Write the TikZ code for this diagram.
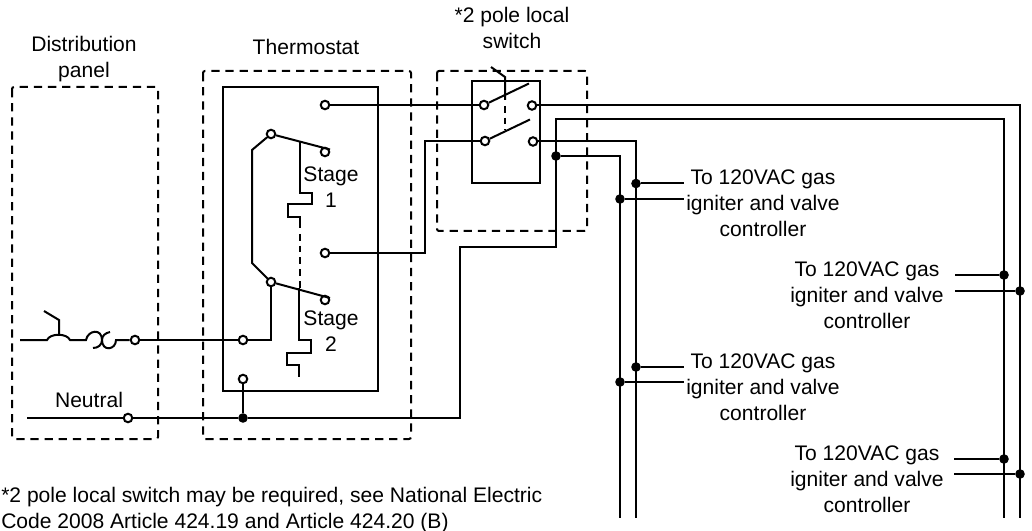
\documentclass[tikz,border=0pt]{standalone}
\usepackage{fontspec}
\setmainfont{Liberation Sans}
\tikzset{
  wire/.style={line width=1.5pt,line join=miter},
  heavy/.style={line width=1.8pt},
  dashbox/.style={line width=1.5pt,dash pattern=on 6.2pt off 4.4pt,rounded corners=1.5pt},
  linkdash/.style={line width=1.5pt,dash pattern=on 5pt off 3.8pt},
  term/.style={circle,draw,line width=1.5pt,fill=white,inner sep=0pt,minimum size=6.4pt},
  junc/.style={circle,fill=black,inner sep=0pt,minimum size=7.2pt},
  corner/.style={inner sep=0pt,minimum size=0pt},
  lbl/.style={font=\fontsize{15.8}{19.5}\selectfont,align=center,inner sep=0pt,text=black}
}
\begin{document}
\begin{tikzpicture}[x=0.75pt,y=-0.75pt]
\useasboundingbox (0,0) rectangle (1032,531);
% boxes
\node[corner] (distTL) at (12,87) {};
\node[corner] (distBR) at (158,439) {};
\node[corner] (thTL) at (203,71) {};
\node[corner] (thBR) at (411,439) {};
\node[corner] (inTL) at (223,87) {};
\node[corner] (inBR) at (378,391) {};
\node[corner] (swTL) at (437,71) {};
\node[corner] (swBR) at (587,231) {};
\node[corner] (bxTL) at (472,81) {};
\node[corner] (bxBR) at (540,183) {};
\draw[dashbox] (distTL.center) rectangle (distBR.center);
\draw[dashbox] (thTL.center) rectangle (thBR.center);
\draw[dashbox] (swTL.center) rectangle (swBR.center);
\draw[heavy] (inTL.center) rectangle (inBR.center);
\draw[wire] (bxTL.center) rectangle (bxBR.center);
% terminals
\node[term] (t1) at (325,105) {};
\node[term] (t2) at (325,253) {};
\node[term] (c1) at (325,152) {};
\node[term] (c2) at (325,300) {};
\node[term] (p1) at (271,134) {};
\node[term] (p2) at (271,282) {};
\node[term] (tin) at (243,340) {};
\node[term] (tn) at (243,379) {};
\node[term] (fuseT) at (135,340) {};
\node[term] (neuT) at (128,418) {};
\node[term] (s1L) at (484,105) {};
\node[term] (s1R) at (532,105.5) {};
\node[term] (s2L) at (485,141) {};
\node[term] (s2R) at (533,141.5) {};
% junctions
\node[junc] (jn) at (243,418) {};
\node[junc] (js) at (556,156) {};
\node[junc] (a1) at (636,183.5) {};
\node[junc] (b1) at (620,199) {};
\node[junc] (a2) at (636,367) {};
\node[junc] (b2) at (620,382) {};
\node[junc] (a3) at (1004,275) {};
\node[junc] (b3) at (1020,291) {};
\node[junc] (a4) at (1004,459) {};
\node[junc] (b4) at (1020,474) {};
% free ends
\coordinate (ne) at (27,418);
\coordinate (le) at (20,340);
\coordinate (v1) at (636,518);
\coordinate (v2) at (620,518);
\coordinate (v3) at (1004,518);
\coordinate (v4) at (1020,518);
\coordinate (ea1) at (684,183.5);
\coordinate (eb1) at (684,199);
\coordinate (ea2) at (684,367);
\coordinate (eb2) at (684,382);
\coordinate (ea3) at (955,275);
\coordinate (eb3) at (955,291);
\coordinate (ea4) at (954,459);
\coordinate (eb4) at (954,474);
% main wires
\draw[wire] (t1) -- (s1L);
\draw[wire] (t2) -- (425,253) -- (425,141) -- (s2L);
\draw[wire] (s1R) -| (v4);
\draw[wire] (s2R) -| (v1);
\draw[wire] (js) -| (v2);
\draw[wire] (jn) -- (460,418) -- (460,247) -- (556,247) -- (556,119) -- (1004,119) -- (v3);
\draw[wire] (jn) -- (neuT);
\draw[wire] (neuT) -- (ne);
\draw[wire] (jn) -- (tn);
\draw[wire] (fuseT) -- (tin);
\draw[wire] (a1) -- (ea1);
\draw[wire] (b1) -- (eb1);
\draw[wire] (a2) -- (ea2);
\draw[wire] (b2) -- (eb2);
\draw[wire] (a3) -- (ea3);
\draw[wire] (b3) -- (eb3);
\draw[wire] (a4) -- (ea4);
\draw[wire] (b4) -- (eb4);
% switch blades and link
\draw[wire] (s1L) -- (529,83.5);
\draw[wire] (s2L) -- (530,119.5);
\draw[wire] (491,67) -- (505,77) -- (505,100);
\draw[linkdash] (505,106) -- (505,130);
% thermostat internals
\draw[wire] (p1) -- (252,150) -- (252,263) -- (p2);
\draw[wire] (p1) -- (330,149.5);
\draw[wire] (p2) -- (330,298);
\draw[wire] (p2) |- (tin);
\draw[wire] (300,141.5) -- (300,193) -- (312,193) -- (312,204) -- (287.5,204) -- (287.5,217) -- (300,217) -- (300,228);
\draw[linkdash] (300,234) -- (300,288);
\draw[wire] (299,288) -- (299,340) -- (311,340) -- (311,353) -- (287,353) -- (287,365) -- (299,365) -- (299,377);
% breaker and fuse
\draw[wire] (le) -- (47,340) .. controls (50,333) and (67,333) .. (70,340) -- (86,340)
  .. controls (88,330) and (102,328) .. (102,340) .. controls (102,345) and (98,348) .. (93,348);
\draw[wire] (110,332) .. controls (105,333) and (102,336) .. (102,340) .. controls (102,352) and (116,350) .. (116,340) -- (fuseT);
\draw[wire] (59,335) -- (59,320) -- (44,311);
% labels
\node[lbl] (l1) at (84,59.5) {Distribution\\panel};
\node[lbl] (l2) at (306,47) {Thermostat};
\node[lbl] (l3) at (512,28) {*2 pole local\\switch};
\node[lbl] (l4) at (331,187) {Stage\\1};
\node[lbl] (l5) at (331,331) {Stage\\2};
\node[lbl] (l6) at (89,400) {Neutral};
\node[lbl] (g1) at (763,203) {To 120VAC gas\\igniter and valve\\controller};
\node[lbl] (g2) at (867,295.5) {To 120VAC gas\\igniter and valve\\controller};
\node[lbl] (g3) at (763,387) {To 120VAC gas\\igniter and valve\\controller};
\node[lbl] (g4) at (867,479.5) {To 120VAC gas\\igniter and valve\\controller};
\node[lbl,align=left,anchor=north west] (note) at (1,487) {*2 pole local switch may be required, see National Electric\\Code 2008 Article 424.19 and Article 424.20 (B)};
\end{tikzpicture}
\end{document}
